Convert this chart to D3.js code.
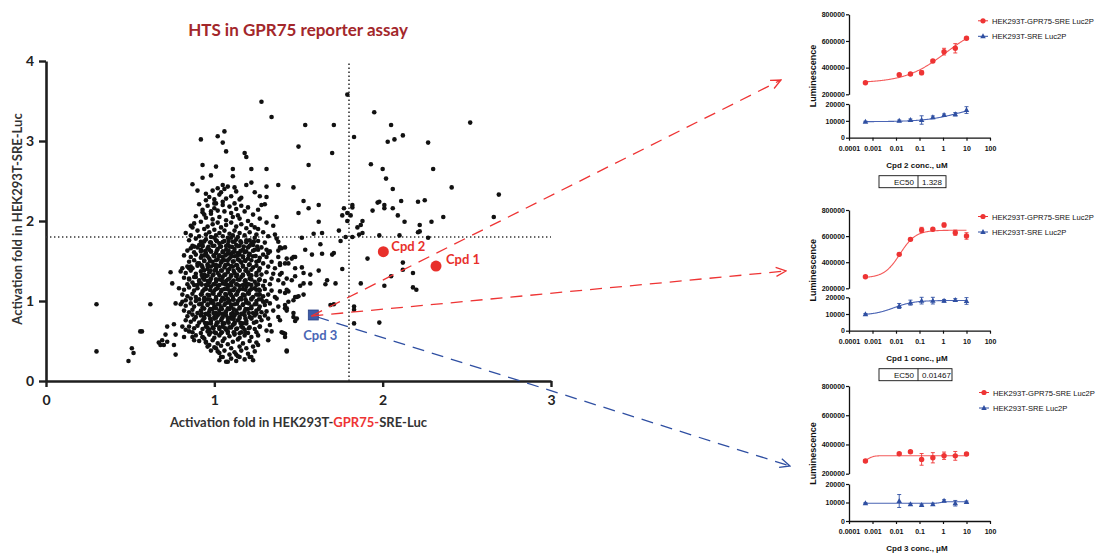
<!DOCTYPE html>
<html>
<head>
<meta charset="utf-8">
<script src="https://cdn.jsdelivr.net/npm/d3@7"></script>
<style>
  body { margin: 0; background: #fff; }
</style>
</head>
<body>
<div id="chart"></div>
<script>
document.addEventListener("DOMContentLoaded", function() {

// ---- main screen data: [GPR75 fold, control fold] ----
var screenSparse = [
  [1.79,3.58],[1.54,3.20],[1.71,3.20],[1.50,2.93],[1.56,2.70],[1.70,2.85],[1.47,2.42],[1.53,2.25],[1.56,2.16],
  [1.50,2.10],[1.62,2.20],[1.62,1.99],[1.59,1.84],[1.64,1.85],[1.52,1.79],[1.74,1.88],[1.77,2.16],[1.76,2.07],
  [1.79,2.10],[1.81,2.07],[1.82,2.20],[1.82,2.17],[1.79,2.00],[1.78,1.80],[1.82,1.80],[1.83,3.05],[1.95,3.36],
  [2.05,3.20],[2.03,2.99],[2.07,3.02],[2.12,3.07],[1.93,2.71],[2.00,2.65],[2.02,2.53],[2.06,2.40],[1.97,2.23],
  [1.98,2.24],[2.01,2.20],[2.01,2.16],[1.94,2.13],[2.06,2.16],[2.11,2.25],[2.09,2.07],[2.13,1.99],[1.88,2.00],
  [1.87,1.95],[1.85,1.92],[1.86,1.83],[1.98,1.82],[2.10,1.82],[2.27,2.98],[2.30,2.65],[2.21,2.24],[2.25,2.26],
  [2.22,1.95],[2.21,1.86],[2.29,1.99],[2.27,1.79],[2.36,2.05],[2.41,2.42],[2.52,3.23],[2.69,2.33],[2.66,2.05],
  [1.91,1.53],[2.12,1.48],[2.18,1.35],[2.12,1.39],[2.05,1.31],[2.01,1.19],[2.18,1.17],[2.20,1.14],[1.87,1.22],
  [1.98,0.73],[1.83,0.93],[1.83,0.89],[1.83,0.72],[2.22,1.87],[1.88,1.85],[1.69,0.95],[1.71,0.96],[1.76,1.40],
  [1.72,1.22],[1.67,1.26],[1.66,1.21],[1.62,1.38],[1.57,1.33],[1.54,1.64],[1.58,1.58],[1.64,1.59],[1.63,1.71],
  [1.70,1.58],[1.71,1.60],[1.75,1.75],[1.40,1.66],[1.43,1.53],[1.47,1.55],[1.44,1.47],[1.39,1.47],[1.40,1.35],
  [1.52,1.42],[1.53,1.35],[1.48,1.31],[1.57,1.22],[1.53,1.22],[1.51,1.19],[1.44,1.12],[1.42,1.10],[1.41,1.22],
  [1.49,1.05],[1.50,1.06],[1.53,1.08],[1.47,1.01],[1.42,0.95],[1.42,0.91],[1.43,0.88],[1.47,0.80],[1.48,0.75],
  [1.40,0.61],[1.42,0.59],[1.43,0.38],[1.39,0.76],
  [1.28,3.49],[1.34,3.30],[1.06,3.12],[1.02,3.06],[0.92,3.02],[1.05,2.98],[1.07,2.87],[1.18,2.85],[1.19,2.80],
  [0.93,2.70],[1.01,2.68],[1.11,2.65],[1.22,2.65],[1.31,2.65],[0.93,2.54],[0.98,2.57],[1.11,2.56],[0.87,2.46],
  [0.95,2.34],[1.38,2.45],[1.31,2.43],[1.31,2.30],[1.30,2.21],[1.28,2.20],[1.22,2.48],[1.19,2.45],[0.98,2.12],
  [0.93,2.14],[0.94,2.08],[1.00,2.22],[1.15,2.27],
  [1.37,2.05],[1.35,1.94],[1.31,1.98],[1.24,1.92],[0.86,1.94],[0.87,1.92],[1.36,1.83],[1.37,1.78],[1.38,1.74],
  [1.39,1.67],[1.42,1.67],[1.38,1.63],[1.46,1.53],[1.48,1.55],[1.38,1.55],[1.39,1.45],[1.42,1.47],[1.48,1.41],
  [0.86,1.66],[0.88,1.68],[0.91,1.70],[0.92,1.64],[0.81,1.41],[0.86,1.43],[0.90,1.47],[1.29,1.58],[1.32,1.60],
  [1.31,1.64],[1.26,1.64],[1.23,1.70],[1.21,1.76],
  [0.74,1.36],[0.75,1.22],[0.85,1.41],[0.89,1.30],[0.85,1.28],[0.91,1.24],[0.88,1.20],[0.62,0.96],[0.57,0.62],
  [0.77,0.97],[0.81,0.99],[0.72,0.68],[0.76,0.71],[0.77,0.58],[0.71,0.58],[0.69,0.51],[0.72,0.49],[0.67,0.48],
  [0.68,0.45],[0.76,0.45],[0.77,0.33],[0.30,0.96],[0.30,0.37],[0.56,0.62],[0.51,0.41],[0.52,0.35],[0.49,0.25],
  [0.70,0.45],[0.81,0.68],[0.83,0.64],[0.85,0.62],[0.82,0.55],[0.87,0.55],[0.88,0.51],[0.93,0.55],[0.94,0.53],
  [0.95,0.49],[0.97,0.45],[1.01,0.41],[1.02,0.37],[1.04,0.30],[1.03,0.26],[1.07,0.24],[1.13,0.33],[1.15,0.30],
  [1.21,0.30],[1.23,0.26],[1.24,0.37],[1.26,0.45],[1.32,0.51],[1.41,0.60],[1.42,0.55],[1.43,0.37],[1.39,1.33],
  [1.43,1.28],[1.46,1.26],[1.43,1.14],[1.39,1.12],[1.37,1.03],[1.44,0.99],[1.38,0.93],[1.43,0.91],[1.47,0.85],
  [1.49,0.78],[1.48,1.05],[1.25,1.14],[1.27,1.08],[1.29,0.99],[1.31,0.87],[1.32,0.78],[1.33,0.70],[1.34,0.62],
  [1.27,0.68]
];

var screenCore = [
  [0.99,2.38],[1.02,2.41],[1.04,2.36],[1.06,2.40],[1.08,2.43],[1.03,2.33],[0.97,2.30],[1.10,2.31],[1.13,2.37],
  [1.16,2.29],[0.95,2.26],[1.00,2.27],[1.07,2.28],[1.24,2.36],[1.27,2.31],[1.05,2.45],[1.12,2.42],[0.90,2.38],
  [0.91,2.21],[0.96,2.19],[1.01,2.22],[1.05,2.20],[1.09,2.18],[1.12,2.22],[1.16,2.19],[1.20,2.17],[1.26,2.14],
  [0.93,2.11],[0.98,2.09],[1.02,2.13],[1.06,2.12],[1.10,2.10],[1.14,2.07],[1.18,2.12],[1.23,2.08],[0.95,2.04],
  [0.99,2.02],[1.03,2.05],[1.07,2.01],[1.11,2.05],[1.15,2.03],[1.20,2.00],[1.27,2.03],[0.89,2.06],[1.05,2.24],
  [1.13,2.15],[1.00,2.16],
  [0.88,1.97],[0.92,1.99],[0.96,1.93],[0.99,1.96],[1.02,1.98],[1.04,1.92],[1.07,1.95],[1.10,1.98],[1.13,1.93],
  [1.16,1.96],[1.19,1.91],[1.22,1.95],[1.26,1.90],[0.90,1.88],[0.94,1.90],[0.97,1.86],[1.00,1.89],[1.03,1.85],
  [1.06,1.88],[1.09,1.84],[1.12,1.88],[1.15,1.85],[1.18,1.82],[1.21,1.86],[1.25,1.83],[1.29,1.86],[0.86,1.82],
  [0.91,1.81],[0.95,1.83],[0.98,1.80],[1.01,1.82],[1.05,1.81],[1.08,1.79],[1.11,1.82],[1.14,1.80],[1.24,1.79],
  [1.32,1.81],[0.83,1.85],
  [0.85,1.76],[0.89,1.78],[0.92,1.74],[0.95,1.77],[0.98,1.73],[1.01,1.76],[1.03,1.72],[1.06,1.75],[1.08,1.71],
  [1.11,1.74],[1.13,1.77],[1.16,1.73],[1.19,1.76],[1.22,1.72],[1.26,1.75],[1.30,1.73],[0.87,1.69],[0.90,1.67],
  [0.93,1.70],[0.96,1.66],[0.99,1.69],[1.02,1.65],[1.04,1.68],[1.07,1.64],[1.09,1.68],[1.12,1.65],[1.15,1.69],
  [1.17,1.64],[1.20,1.67],[1.24,1.64],[1.28,1.67],[0.84,1.63],[0.88,1.61],[0.92,1.62],[0.95,1.60],[0.98,1.62],
  [1.01,1.60],[1.05,1.61],[1.08,1.59],[1.11,1.61],[1.14,1.60],[1.18,1.61],[1.21,1.59],[1.33,1.62],[1.00,1.79],
  [1.10,1.79],[0.97,1.64],[1.13,1.70],
  [0.82,1.57],[0.86,1.55],[0.89,1.58],[0.92,1.54],[0.94,1.57],[0.97,1.53],[1.00,1.56],[1.02,1.52],[1.05,1.55],
  [1.07,1.58],[1.09,1.53],[1.12,1.56],[1.14,1.52],[1.17,1.55],[1.20,1.53],[1.23,1.56],[1.27,1.54],[1.31,1.55],
  [0.85,1.49],[0.88,1.51],[0.91,1.47],[0.94,1.50],[0.96,1.46],[0.99,1.49],[1.01,1.45],[1.04,1.48],[1.06,1.51],
  [1.08,1.46],[1.11,1.49],[1.13,1.45],[1.16,1.48],[1.18,1.51],[1.21,1.46],[1.25,1.49],[1.29,1.47],[1.34,1.49],
  [0.84,1.43],[0.87,1.41],[0.90,1.44],[0.93,1.42],[0.96,1.40],[0.98,1.43],[1.01,1.41],[1.03,1.44],[1.06,1.42],
  [1.09,1.40],[1.11,1.43],[1.14,1.41],[1.17,1.43],[1.19,1.40],[1.23,1.42],[1.27,1.41],[1.32,1.43],[1.36,1.41],
  [0.95,1.59],[1.10,1.59],[1.03,1.57],[1.15,1.58],
  [0.80,1.37],[0.83,1.35],[0.86,1.38],[0.89,1.34],[0.92,1.37],[0.94,1.33],[0.97,1.36],[0.99,1.32],[1.02,1.35],
  [1.04,1.38],[1.06,1.33],[1.08,1.36],[1.10,1.32],[1.12,1.35],[1.15,1.38],[1.17,1.33],[1.20,1.36],[1.22,1.32],
  [1.25,1.35],[1.28,1.33],[1.31,1.36],[1.35,1.34],[0.82,1.29],[0.85,1.27],[0.88,1.30],[0.91,1.26],[0.93,1.29],
  [0.96,1.25],[0.98,1.28],[1.01,1.24],[1.03,1.27],[1.05,1.30],[1.07,1.25],[1.09,1.28],[1.11,1.24],[1.14,1.27],
  [1.16,1.30],[1.18,1.25],[1.21,1.28],[1.24,1.24],[1.27,1.27],[1.30,1.25],[1.34,1.28],[1.38,1.26],[0.84,1.21],
  [0.87,1.23],[0.90,1.20],[0.92,1.22],[0.95,1.20],[0.97,1.23],[1.00,1.21],[1.02,1.19],[1.05,1.22],[1.08,1.20],
  [1.10,1.23],[1.13,1.21],[1.15,1.19],[1.19,1.22],[1.22,1.20],[1.26,1.21],[1.29,1.19],[1.33,1.21],[1.00,1.38],
  [1.13,1.31],[0.95,1.31],
  [0.79,1.16],[0.82,1.14],[0.85,1.17],[0.88,1.13],[0.90,1.16],[0.93,1.12],[0.95,1.15],[0.98,1.18],[1.00,1.13],
  [1.02,1.16],[1.04,1.12],[1.06,1.15],[1.08,1.18],[1.10,1.13],[1.12,1.16],[1.14,1.12],[1.17,1.15],[1.19,1.18],
  [1.21,1.13],[1.24,1.16],[1.27,1.13],[1.30,1.15],[1.34,1.13],[0.81,1.08],[0.84,1.06],[0.87,1.09],[0.89,1.05],
  [0.92,1.08],[0.94,1.04],[0.97,1.07],[0.99,1.10],[1.01,1.05],[1.03,1.08],[1.05,1.04],[1.07,1.07],[1.09,1.10],
  [1.11,1.05],[1.13,1.08],[1.16,1.04],[1.18,1.07],[1.20,1.10],[1.23,1.05],[1.26,1.08],[1.29,1.06],[1.32,1.08],
  [1.36,1.05],[0.83,1.01],[0.86,1.03],[0.89,1.00],[0.91,1.02],[0.94,1.00],[0.96,1.02],[0.99,1.00],[1.01,1.02],
  [1.04,1.00],[1.06,1.02],[1.09,1.00],[1.11,1.02],[1.14,1.00],[1.16,1.02],[1.19,1.00],[1.22,1.02],[1.25,1.00],
  [1.28,1.02],[1.31,1.00],
  [0.80,0.96],[0.83,0.94],[0.86,0.97],[0.88,0.93],[0.91,0.96],[0.93,0.92],[0.96,0.95],[0.98,0.98],[1.00,0.93],
  [1.02,0.96],[1.04,0.92],[1.06,0.95],[1.08,0.98],[1.10,0.93],[1.12,0.96],[1.15,0.92],[1.17,0.95],[1.19,0.98],
  [1.22,0.93],[1.24,0.96],[1.27,0.93],[1.30,0.95],[1.33,0.97],[0.82,0.88],[0.85,0.86],[0.87,0.89],[0.90,0.85],
  [0.92,0.88],[0.95,0.84],[0.97,0.87],[0.99,0.90],[1.01,0.85],[1.03,0.88],[1.05,0.84],[1.07,0.87],[1.09,0.90],
  [1.11,0.85],[1.13,0.88],[1.16,0.84],[1.18,0.87],[1.20,0.90],[1.23,0.85],[1.25,0.88],[1.28,0.86],[1.35,0.88],
  [0.84,0.81],[0.87,0.83],[0.89,0.80],[0.92,0.82],[0.94,0.80],[0.97,0.82],[1.00,0.80],[1.02,0.82],[1.05,0.80],
  [1.07,0.82],[1.10,0.80],[1.12,0.82],[1.15,0.80],[1.18,0.82],[1.21,0.80],[1.24,0.82],[1.27,0.80],[1.30,0.82],
  [1.38,0.80],
  [0.83,0.76],[0.86,0.74],[0.88,0.77],[0.91,0.73],[0.93,0.76],[0.96,0.72],[0.98,0.75],[1.00,0.78],[1.02,0.73],
  [1.04,0.76],[1.06,0.72],[1.08,0.75],[1.10,0.78],[1.12,0.73],[1.14,0.76],[1.17,0.72],[1.19,0.75],[1.22,0.78],
  [1.25,0.74],[1.28,0.76],[0.85,0.68],[0.88,0.66],[0.90,0.69],[0.93,0.65],[0.95,0.68],[0.97,0.64],[0.99,0.67],
  [1.01,0.70],[1.03,0.65],[1.05,0.68],[1.07,0.64],[1.09,0.67],[1.11,0.70],[1.13,0.65],[1.16,0.68],[1.18,0.64],
  [1.21,0.67],[1.24,0.65],[1.27,0.68],[0.87,0.61],[0.92,0.60],[0.96,0.62],[1.00,0.61],[1.04,0.60],[1.08,0.62],
  [1.12,0.60],[1.16,0.61],[1.20,0.60],[1.25,0.61],[1.31,0.63],
  [0.89,0.57],[0.93,0.55],[0.97,0.58],[1.00,0.54],[1.03,0.57],[1.06,0.53],[1.09,0.56],[1.12,0.58],[1.15,0.54],
  [1.18,0.57],[1.22,0.55],[1.26,0.57],[0.91,0.50],[0.95,0.48],[0.99,0.51],[1.02,0.47],[1.05,0.50],[1.08,0.46],
  [1.11,0.49],[1.14,0.52],[1.17,0.47],[1.21,0.50],[1.25,0.48],[0.96,0.43],[1.00,0.42],[1.04,0.44],[1.10,0.41],
  [1.15,0.43],[1.19,0.41],[1.23,0.43],
  [0.98,0.38],[1.03,0.35],[1.06,0.38],[1.09,0.33],[1.12,0.36],[1.16,0.38],[1.20,0.34],[1.05,0.30],[1.10,0.28],
  [1.14,0.31],[1.18,0.27],[1.22,0.30],[1.08,0.24],[1.13,0.25]
];

// densest part of the cloud, between the points above
var screenDense = [
  [0.94,1.745],[0.975,1.735],[1.015,1.748],[1.05,1.738],[1.085,1.75],[1.12,1.74],[1.155,1.745],[1.19,1.735],[1.235,1.742],
  [0.93,1.685],[0.965,1.678],[1.00,1.69],[1.035,1.68],[1.07,1.688],[1.105,1.676],[1.14,1.686],[1.175,1.68],[1.21,1.69],[1.255,1.682],
  [0.945,1.625],[0.98,1.618],[1.015,1.63],[1.05,1.62],[1.085,1.628],[1.12,1.616],[1.155,1.626],[1.19,1.62],[1.23,1.628],
  [0.925,1.565],[0.96,1.558],[0.995,1.57],[1.03,1.56],[1.065,1.568],[1.10,1.556],[1.135,1.566],[1.17,1.56],[1.205,1.57],[1.245,1.562],
  [0.94,1.505],[0.975,1.498],[1.01,1.51],[1.045,1.50],[1.08,1.508],[1.115,1.496],[1.15,1.506],[1.185,1.50],[1.22,1.51],[1.265,1.502],
  [0.925,1.445],[0.96,1.438],[0.995,1.45],[1.03,1.44],[1.065,1.448],[1.10,1.436],[1.135,1.446],[1.17,1.44],[1.205,1.45],[1.25,1.442],
  [0.94,1.385],[0.975,1.378],[1.01,1.39],[1.045,1.38],[1.08,1.388],[1.115,1.376],[1.15,1.386],[1.185,1.38],[1.22,1.39],[1.265,1.382],
  [0.925,1.325],[0.96,1.318],[0.995,1.33],[1.03,1.32],[1.065,1.328],[1.10,1.316],[1.135,1.326],[1.17,1.32],[1.205,1.33],[1.25,1.322],
  [0.94,1.265],[0.975,1.258],[1.01,1.27],[1.045,1.26],[1.08,1.268],[1.115,1.256],[1.15,1.266],[1.185,1.26],[1.22,1.27],[1.265,1.262],
  [0.925,1.205],[0.96,1.198],[0.995,1.21],[1.03,1.20],[1.065,1.208],[1.10,1.196],[1.135,1.206],[1.17,1.20],[1.205,1.21],[1.25,1.202],
  [0.94,1.145],[0.975,1.138],[1.01,1.15],[1.045,1.14],[1.08,1.148],[1.115,1.136],[1.15,1.146],[1.185,1.14],[1.22,1.15],[1.265,1.142],
  [0.925,1.085],[0.96,1.078],[0.995,1.09],[1.03,1.08],[1.065,1.088],[1.10,1.076],[1.135,1.086],[1.17,1.08],[1.205,1.09],[1.25,1.082],
  [0.94,1.025],[0.975,1.018],[1.01,1.03],[1.045,1.02],[1.08,1.028],[1.115,1.016],[1.15,1.026],[1.185,1.02],[1.22,1.03],[1.265,1.022],
  [0.925,0.965],[0.96,0.958],[0.995,0.97],[1.03,0.96],[1.065,0.968],[1.10,0.956],[1.135,0.966],[1.17,0.96],[1.205,0.97],[1.25,0.962],
  [0.94,0.905],[0.975,0.898],[1.01,0.91],[1.045,0.90],[1.08,0.908],[1.115,0.896],[1.15,0.906],[1.185,0.90],[1.22,0.91],[1.265,0.902],
  [0.925,0.845],[0.96,0.838],[0.995,0.85],[1.03,0.84],[1.065,0.848],[1.10,0.836],[1.135,0.846],[1.17,0.84],[1.205,0.85],[1.25,0.842],
  [0.94,0.785],[0.975,0.778],[1.01,0.79],[1.045,0.78],[1.08,0.788],[1.115,0.776],[1.15,0.786],[1.185,0.78],[1.22,0.79],
  [0.945,0.725],[0.98,0.718],[1.015,0.73],[1.05,0.72],[1.085,0.728],[1.12,0.716],[1.155,0.726],[1.19,0.72],[1.235,0.728],
  [0.96,0.665],[0.995,0.658],[1.03,0.67],[1.065,0.66],[1.10,0.668],[1.135,0.656],[1.17,0.666],[1.205,0.66],
  [0.975,0.605],[1.01,0.598],[1.045,0.61],[1.08,0.60],[1.115,0.608],[1.15,0.596],[1.185,0.606]
];

var hitNames = ["Cpd 1", "Cpd 2", "Cpd 3"];
var hitX = [2.317, 2.004, 1.588];
var hitY = [1.437, 1.616, 0.825];
var cutoff = 1.8;
var mainXTicks = [0, 1, 2, 3];
var mainYTicks = [0, 1, 2, 3, 4];

// ---- dose response data ----
var conc = [0.0005, 0.0137, 0.0412, 0.123, 0.370, 1.11, 3.33, 10];
var concTicks = [0.0001, 0.001, 0.01, 0.1, 1, 10, 100];
var concTickLabels = ["0.0001", "0.001", "0.01", "0.1", "1", "10", "100"];
var upperTicks = [200000, 400000, 600000, 800000];
var lowerTicks = [0, 10000, 20000];
var seriesNames = ["HEK293T-GPR75-SRE Luc2P", "HEK293T-SRE Luc2P"];

var cpd2Red     = [287000, 347000, 352000, 362000, 450000, 520000, 545000, 620000];
var cpd2RedErr  = [5000, 8000, 8000, 15000, 10000, 25000, 35000, 10000];
var cpd2Blue    = [9500, 10000, 10500, 10500, 12100, 13500, 13900, 16400];
var cpd2BlueErr = [300, 500, 600, 2500, 800, 600, 1000, 2000];
var cpd2RedFit  = [285000, 740000, 1.328, 0.5];
var cpd2BlueFit = [9500, 20000, 5, 0.6];

var cpd1Red     = [289000, 460000, 575000, 647000, 652000, 685000, 626000, 601000];
var cpd1RedErr  = [6000, 10000, 10000, 20000, 8000, 15000, 20000, 25000];
var cpd1Blue    = [9800, 14800, 16800, 18000, 18000, 17900, 18400, 17800];
var cpd1BlueErr = [500, 1500, 1500, 2000, 2000, 800, 800, 2000];
var cpd1RedFit  = [280000, 645000, 0.01467, 1.3];
var cpd1BlueFit = [9300, 18100, 0.008, 1.0];

var cpd3Red     = [287000, 337000, 350000, 298000, 309000, 323000, 322000, 335000];
var cpd3RedErr  = [6000, 8000, 8000, 40000, 35000, 25000, 30000, 8000];
var cpd3Blue    = [9600, 10800, 9000, 8600, 9000, 11000, 9600, 10300];
var cpd3BlueErr = [300, 3500, 500, 500, 600, 500, 1500, 500];
var cpd3RedFit  = [285000, 323000, 0.0007, 4];
var cpd3BlueFit = [9600, 10400, 0.8, 6];

var red = "#ee3434", blue = "#2f4fa2";
var armFont = "'Liberation Sans', Arial, sans-serif";
var mainFont = "Lato, 'Open Sans', sans-serif";

var svg = d3.select("#chart").append("svg")
  .attr("width", 1097)
  .attr("height", 555);

var defs = svg.append("defs");
[["arrowRed", red], ["arrowBlue", blue]].forEach(function(m) {
  defs.append("marker")
    .attr("id", m[0])
    .attr("markerUnits", "userSpaceOnUse")
    .attr("viewBox", "-11 -6 12 12")
    .attr("refX", 0).attr("refY", 0)
    .attr("markerWidth", 12).attr("markerHeight", 12)
    .attr("orient", "auto")
    .append("path")
    .attr("d", "M-10,-4.5 L0,0 L-10,4.5")
    .attr("fill", "none")
    .attr("stroke", m[1])
    .attr("stroke-width", 1.3);
});

// ================= main scatter =================
var x = d3.scaleLinear().domain([0, 3]).range([46, 551]);
var y = d3.scaleLinear().domain([0, 4]).range([381, 61]);

svg.append("text")
  .attr("x", 298).attr("y", 36)
  .attr("text-anchor", "middle")
  .attr("font-family", mainFont)
  .attr("font-weight", "bold")
  .attr("font-size", 17)
  .attr("fill", "#a3272b")
  .text("HTS in GPR75 reporter assay");

var gx = svg.append("g")
  .attr("transform", "translate(0," + y(0) + ")")
  .call(d3.axisBottom(x).tickValues(mainXTicks).tickFormat(d3.format("d"))
    .tickSize(6).tickSizeOuter(0).tickPadding(8));
var gy = svg.append("g")
  .attr("transform", "translate(" + x(0) + ",0)")
  .call(d3.axisLeft(y).tickValues(mainYTicks).tickFormat(d3.format("d"))
    .tickSize(7).tickSizeOuter(0).tickPadding(5));
[gx, gy].forEach(function(g) {
  g.attr("font-family", mainFont).attr("font-size", 14).attr("font-weight", "bold");
  g.select(".domain").attr("stroke", "#1e1e1e").attr("stroke-width", 2.6);
  g.selectAll(".tick line").attr("stroke", "#1e1e1e").attr("stroke-width", 2.4);
  g.selectAll(".tick text").attr("fill", "#222");
});

// cut-off lines
svg.append("line")
  .attr("x1", x(cutoff)).attr("x2", x(cutoff))
  .attr("y1", y(0)).attr("y2", y(4))
  .attr("stroke", "#333").attr("stroke-width", 1.6)
  .attr("stroke-dasharray", "1.4,2.6");
svg.append("line")
  .attr("x1", x(0)).attr("x2", x(3))
  .attr("y1", y(cutoff)).attr("y2", y(cutoff))
  .attr("stroke", "#333").attr("stroke-width", 1.6)
  .attr("stroke-dasharray", "1.4,2.6");

svg.append("g")
  .selectAll("circle")
  .data(screenSparse.concat(screenCore, screenDense))
  .enter().append("circle")
  .attr("cx", function(d) { return x(d[0]); })
  .attr("cy", function(d) { return y(d[1]); })
  .attr("r", 2.3)
  .attr("fill", "#111");

// axis titles
svg.append("text")
  .attr("transform", "translate(22,219) rotate(-90)")
  .attr("text-anchor", "middle")
  .attr("font-family", mainFont)
  .attr("font-weight", "bold")
  .attr("font-size", 13)
  .attr("fill", "#333")
  .text("Activation fold in HEK293T-SRE-Luc");

var xt = svg.append("text")
  .attr("x", x(1.5)).attr("y", 427)
  .attr("text-anchor", "middle")
  .attr("font-family", mainFont)
  .attr("font-weight", "bold")
  .attr("font-size", 13)
  .attr("fill", "#333");
xt.append("tspan").text("Activation fold in HEK293T-");
xt.append("tspan").attr("fill", red).text("GPR75-");
xt.append("tspan").text("SRE-Luc");

// ================= dose-response panels =================
var panels = [
  { label: "Cpd 2 conc., uM", red: cpd2Red, redErr: cpd2RedErr, blue: cpd2Blue, blueErr: cpd2BlueErr,
    redFit: cpd2RedFit, blueFit: cpd2BlueFit, ec50: "1.328",
    top: 14.3, brk: 94.3, lowTop: 104, bottom: 137.7, legendX: 983, arrow: [781, 80], arrowColor: red },
  { label: "Cpd 1 conc., \u03bcM", red: cpd1Red, redErr: cpd1RedErr, blue: cpd1Blue, blueErr: cpd1BlueErr,
    redFit: cpd1RedFit, blueFit: cpd1BlueFit, ec50: "0.01467",
    top: 210, brk: 288.3, lowTop: 297.3, bottom: 330.7, legendX: 983, arrow: [786, 271], arrowColor: red },
  { label: "Cpd 3 conc., \u03bcM", red: cpd3Red, redErr: cpd3RedErr, blue: cpd3Blue, blueErr: cpd3BlueErr,
    redFit: cpd3RedFit, blueFit: cpd3BlueFit, ec50: null,
    top: 386, brk: 473.7, lowTop: 484, bottom: 521, legendX: 984, arrow: [790, 466], arrowColor: blue }
];

function fourPL(p, c) {
  return p[0] + (p[1] - p[0]) / (1 + Math.pow(p[2] / c, p[3]));
}

var xLog = d3.scaleLog().domain([1e-4, 100]).range([849, 990]);
var fitConc = d3.range(Math.log10(conc[0]), Math.log10(conc[conc.length - 1]) + 0.001, 0.02)
  .map(function(e) { return Math.pow(10, e); });

function styleArmAxis(g) {
  g.attr("font-family", armFont).attr("font-size", 7).attr("font-weight", "bold");
  g.select(".domain").attr("stroke", "#111").attr("stroke-width", 1.3);
  g.selectAll(".tick line").attr("stroke", "#111").attr("stroke-width", 1.2);
  g.selectAll(".tick text").attr("fill", "#111");
}

function triangle(g, cx, cy, s, color) {
  g.append("path")
    .attr("d", "M" + cx + "," + (cy - s * 0.6) + " L" + (cx + s * 0.55) + "," + (cy + s * 0.4) +
               " L" + (cx - s * 0.55) + "," + (cy + s * 0.4) + " Z")
    .attr("fill", color);
}

panels.forEach(function(p) {
  var g = svg.append("g");
  var yUp = d3.scaleLinear().domain([200000, 800000]).range([p.brk, p.top]);
  var yLo = d3.scaleLinear().domain([0, 20000]).range([p.bottom, p.lowTop]);

  styleArmAxis(g.append("g").attr("transform", "translate(849,0)")
    .call(d3.axisLeft(yUp).tickValues(upperTicks).tickFormat(d3.format("d")).tickSize(3).tickSizeOuter(0).tickPadding(1)));
  styleArmAxis(g.append("g").attr("transform", "translate(849,0)")
    .call(d3.axisLeft(yLo).tickValues(lowerTicks).tickFormat(d3.format("d")).tickSize(3).tickSizeOuter(0).tickPadding(1)));
  styleArmAxis(g.append("g").attr("transform", "translate(0," + p.bottom + ")")
    .call(d3.axisBottom(xLog).tickValues(concTicks).tickFormat(function(d, i) { return concTickLabels[i]; })
      .tickSize(3).tickSizeOuter(0).tickPadding(5)));

  g.append("text")
    .attr("transform", "translate(816," + ((p.top + p.bottom) / 2) + ") rotate(-90)")
    .attr("text-anchor", "middle")
    .attr("font-family", armFont).attr("font-weight", "bold").attr("font-size", 9)
    .attr("fill", "#111")
    .text("Luminescence");

  g.append("text")
    .attr("x", 917).attr("y", p.bottom + 30)
    .attr("text-anchor", "middle")
    .attr("font-family", armFont).attr("font-weight", "bold").attr("font-size", 8)
    .attr("fill", "#111")
    .text(p.label);

  if (p.ec50) {
    var bt = p.bottom + 38;
    var bw = p.ec50.length > 5 ? 73 : 67;
    g.append("rect").attr("x", 879).attr("y", bt).attr("width", bw).attr("height", 12)
      .attr("fill", "none").attr("stroke", "#111").attr("stroke-width", 0.9);
    g.append("line").attr("x1", 918).attr("x2", 918).attr("y1", bt).attr("y2", bt + 12)
      .attr("stroke", "#111").attr("stroke-width", 0.9);
    g.append("text").attr("x", 914).attr("y", bt + 9).attr("text-anchor", "end")
      .attr("font-family", armFont).attr("font-size", 8).attr("fill", "#111").text("EC50");
    g.append("text").attr("x", 922).attr("y", bt + 9)
      .attr("font-family", armFont).attr("font-size", 8).attr("fill", "#111").text(p.ec50);
  }

  // fitted curves
  g.append("path")
    .datum(fitConc)
    .attr("d", d3.line().x(function(c) { return xLog(c); }).y(function(c) { return yUp(fourPL(p.redFit, c)); }))
    .attr("fill", "none").attr("stroke", "#f45b5b").attr("stroke-width", 1.1);
  g.append("path")
    .datum(fitConc)
    .attr("d", d3.line().x(function(c) { return xLog(c); }).y(function(c) { return yLo(fourPL(p.blueFit, c)); }))
    .attr("fill", "none").attr("stroke", "#4a64b4").attr("stroke-width", 1.1);

  // error bars and markers
  [[p.red, p.redErr, yUp, red], [p.blue, p.blueErr, yLo, blue]].forEach(function(s, si) {
    s[0].forEach(function(v, i) {
      var cx = xLog(conc[i]);
      var y1 = s[2](v - s[1][i]), y2 = s[2](v + s[1][i]);
      g.append("line").attr("x1", cx).attr("x2", cx).attr("y1", y1).attr("y2", y2)
        .attr("stroke", s[3]).attr("stroke-width", 0.9);
      [y1, y2].forEach(function(yy) {
        g.append("line").attr("x1", cx - 2).attr("x2", cx + 2).attr("y1", yy).attr("y2", yy)
          .attr("stroke", s[3]).attr("stroke-width", 0.9);
      });
      if (si === 0) {
        g.append("circle").attr("cx", cx).attr("cy", s[2](v)).attr("r", 2.7).attr("fill", s[3]);
      } else {
        triangle(g, cx, s[2](v), 5, s[3]);
      }
    });
  });

  // legend
  var ly = [p.top + 6.5, p.top + 22];
  [red, blue].forEach(function(c, i) {
    g.append("line").attr("x1", p.legendX - 5).attr("x2", p.legendX + 5).attr("y1", ly[i]).attr("y2", ly[i])
      .attr("stroke", c).attr("stroke-width", 1);
    if (i === 0) g.append("circle").attr("cx", p.legendX).attr("cy", ly[i]).attr("r", 2.6).attr("fill", c);
    else triangle(g, p.legendX, ly[i], 5, c);
    g.append("text").attr("x", p.legendX + 9).attr("y", ly[i] + 3)
      .attr("font-family", armFont).attr("font-size", 7.6).attr("fill", "#111")
      .text(seriesNames[i]);
  });
});

// ================= hits and connectors =================
var hx = hitX.map(function(v) { return x(v); });
var hy = hitY.map(function(v) { return y(v); });

function connector(p, sx, sy) {
  svg.append("line")
    .attr("x1", sx).attr("y1", sy)
    .attr("x2", p.arrow[0]).attr("y2", p.arrow[1])
    .attr("stroke", p.arrowColor).attr("stroke-width", 1.3)
    .attr("stroke-dasharray", "12,8")
    .attr("marker-end", p.arrowColor === red ? "url(#arrowRed)" : "url(#arrowBlue)");
}

connector(panels[2], hx[2] + 4, hy[2] + 2);

svg.append("rect")
  .attr("x", hx[2] - 5).attr("y", hy[2] - 5)
  .attr("width", 10).attr("height", 10)
  .attr("fill", "#3e5ca9").attr("stroke", "#2a4186").attr("stroke-width", 0.8);

connector(panels[0], hx[2] - 2, hy[2] + 1);
connector(panels[1], hx[2] - 2, hy[2] + 1);

[0, 1].forEach(function(i) {
  svg.append("circle").attr("cx", hx[i]).attr("cy", hy[i]).attr("r", 5.5).attr("fill", "#e8302b");
});

var hitLabelDx = [10, 8, 7];
var hitLabelDy = [-2, -1, 25];
var hitAnchor = ["start", "start", "middle"];
hitNames.forEach(function(n, i) {
  svg.append("text")
    .attr("x", hx[i] + hitLabelDx[i]).attr("y", hy[i] + hitLabelDy[i])
    .attr("text-anchor", hitAnchor[i])
    .attr("font-family", mainFont).attr("font-weight", "bold").attr("font-size", 13)
    .attr("fill", i === 2 ? "#4a66b5" : "#e8302b")
    .text(n);
});

});
</script>
</body>
</html>
